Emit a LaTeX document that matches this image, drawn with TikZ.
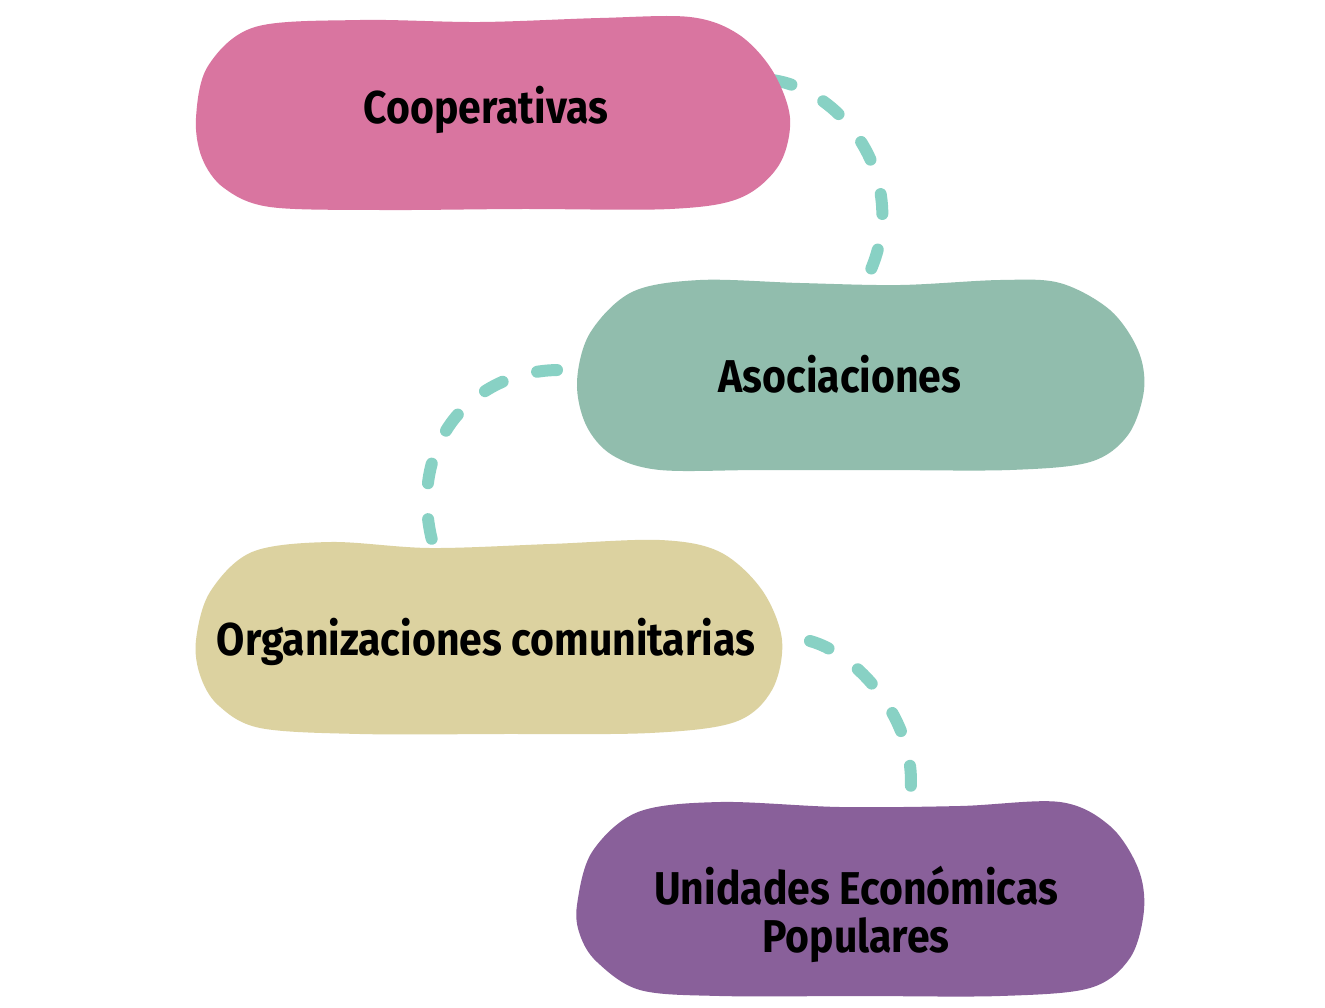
\documentclass[tikz,border=0pt]{standalone}
\usepackage{fontspec}
\newfontfamily\lblfont{Fira Sans}[FakeStretch=0.89]
\definecolor{pinkc}{RGB}{217,117,160}
\definecolor{greenc}{RGB}{145,189,173}
\definecolor{khakic}{RGB}{220,210,160}
\definecolor{purplec}{RGB}{137,96,154}
\definecolor{tealc}{RGB}{136,209,196}
\tikzset{
  blob/.style={fill=#1, draw=none},
  conn/.style={draw=tealc, line width=12pt, line cap=round, dash pattern=on 20pt off 36pt},
  lbl/.style={font=\lblfont\bfseries\fontsize{46}{48}\selectfont, text=black, align=center, inner sep=0pt}
}
\begin{document}
\begin{tikzpicture}[x=1pt,y=-1pt]
\useasboundingbox[fill=white] (0,0) rectangle (1325,1007);
% connector end points
\coordinate (c1s) at (772,80);
\coordinate (c1e) at (866,280);
\coordinate (c2s) at (557,370);
\coordinate (c2e) at (438,560);
\coordinate (c3s) at (810,641);
\coordinate (c3e) at (906,815);
% connectors
\draw[conn] (c1s) .. controls (845,90) and (915,185) .. (c1e);
\draw[conn] (c2s) .. controls (465,372) and (400,455) .. (c2e);
\draw[conn] (c3s) .. controls (862,655) and (930,735) .. (c3e);
% blobs
\fill[blob=pinkc] plot[smooth cycle, tension=0.55] coordinates {(196,118) (208,66) (255,27) (360,20) (480,22) (600,18) (690,17) (738,34) (772,70) (790,118) (779,165) (740,198) (670,209) (520,209) (380,210) (270,207) (224,188) (202,158)};
\fill[blob=greenc] plot[smooth cycle, tension=0.55] coordinates {(577,382) (590,333) (632,292) (700,280) (800,283) (900,285) (1000,280) (1060,283) (1110,310) (1138,350) (1144,390) (1128,435) (1090,462) (1010,470) (880,470) (760,470) (660,470) (612,455) (586,425)};
\fill[blob=khakic] plot[smooth cycle, tension=0.55] coordinates {(196,640) (210,592) (252,552) (330,542) (430,548) (550,544) (660,540) (720,552) (762,590) (782,640) (772,690) (735,722) (650,733) (500,734) (360,734) (260,728) (218,705) (200,675)};
\fill[blob=purplec] plot[smooth cycle, tension=0.55] coordinates {(577,905) (592,852) (638,812) (720,802) (840,807) (960,806) (1060,802) (1110,826) (1138,868) (1144,910) (1130,958) (1090,988) (1000,996) (860,996) (720,996) (640,990) (597,962) (580,935)};
% labels
\node[lbl] (coop) at (486,110) {Cooperativas};
\node[lbl] (asoc) at (840,374) {Asociaciones};
\node[lbl] (org) at (486,642) {Organizaciones comunitarias};
\node[lbl] (uep) at (856,914) {Unidades Económicas\\Populares};
\end{tikzpicture}
\end{document}
